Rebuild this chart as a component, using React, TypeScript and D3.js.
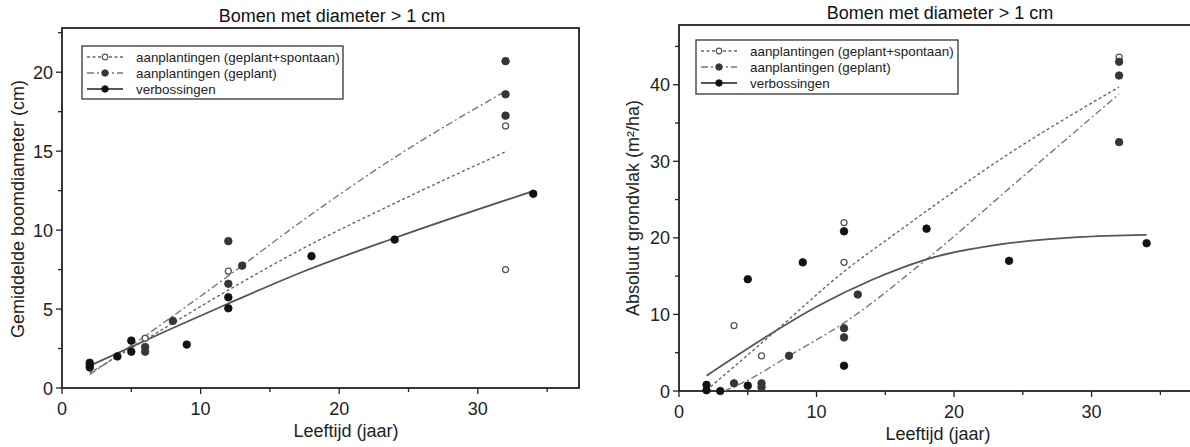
import React from "react";
import * as d3 from "d3";

const W = 1190, H = 447;
const title = "Bomen met diameter > 1 cm";
const xLabel = "Leeftijd (jaar)";
const legendLabels = ["aanplantingen (geplant+spontaan)", "aanplantingen (geplant)", "verbossingen"];
const xTicks = [0, 10, 20, 30];
const xMinor = [5, 15, 25, 35];

// links: gemiddelde boomdiameter (cm)
const diamTicks = [0, 5, 10, 15, 20];
const diamMinor = [2.5, 7.5, 12.5, 17.5, 22.5];
const diamSpont = [[6, 3.15], [12, 7.4], [32, 16.6], [32, 7.5]];
const diamGeplant = [[6, 2.6], [6, 2.3], [8, 4.25], [12, 9.3], [12, 6.6], [13, 7.75], [32, 20.7], [32, 18.6], [32, 17.25]];
const diamVerbos = [[2, 1.3], [2, 1.45], [2, 1.6], [4, 2.0], [5, 3.0], [5, 2.3], [9, 2.75], [12, 5.75], [12, 5.05], [18, 8.35], [24, 9.4], [34, 12.3]];
const diamFitSpont = [[2, 0.95], [6, 3.05], [12, 6.2], [17.2, 8.75], [24, 11.7], [32, 14.96]];
const diamFitGeplant = [[2, 0.85], [6, 3.3], [12, 7.1], [17.2, 10.5], [24, 14.6], [32, 18.8]];
const diamFitVerbos = [[2, 1.41], [8, 3.8], [12, 5.35], [17.2, 7.3], [24, 9.5], [34, 12.47]];

// rechts: absoluut grondvlak (m²/ha)
const areaTicks = [0, 10, 20, 30, 40];
const areaMinor = [5, 15, 25, 35, 45];
const areaSpont = [[4, 8.55], [6, 4.6], [12, 22.0], [12, 16.8], [32, 43.6]];
const areaGeplant = [[4, 1.0], [6, 1.0], [6, 0.5], [8, 4.6], [12, 8.2], [12, 7.0], [13, 12.6], [32, 43.0], [32, 41.2], [32, 32.5]];
const areaVerbos = [[2, 0.8], [2, 0.1], [3, 0.0], [5, 14.6], [5, 0.7], [9, 16.8], [12, 20.85], [12, 3.3], [18, 21.2], [24, 17.0], [34, 19.3]];
const areaFitSpont = [[2, 0.1], [7, 7.8], [12, 15.6], [16, 20.9], [24, 31.0], [32, 39.7]];
const areaFitGeplant = [[3.3, 0], [5, 1.4], [8, 4.6], [12, 8.9], [18, 17.2], [25, 28.0], [32, 38.8]];
const areaFitVerbos = [[2, 2.0], [6, 6.7], [10, 11.0], [14, 14.5], [18, 17.2], [24, 19.3], [29, 20.1], [34, 20.4]];

const FONT = "'Liberation Sans', Arial, sans-serif";

const styles = [
    { dash: "3,2.5", stroke: "#666", width: 1.4, fill: "#fff", ptStroke: "#555", open: true },
    { dash: "7,3,2,3", stroke: "#777", width: 1.4, fill: "#363636", ptStroke: "#363636", open: false },
    { dash: null, stroke: "#555", width: 1.8, fill: "#111", ptStroke: "#111", open: false },
];

function drawPanel(svg: any, cfg: any) {
    const x = d3.scaleLinear().domain([0, 37.3]).range(cfg.xRange);
    const y = d3.scaleLinear().domain(cfg.yDomain).range(cfg.yRange);
    const [x0, x1] = cfg.xRange;
    const [yb, yt] = cfg.yRange;
    const g = svg.append("g");

    // box
    g.append("rect")
        .attr("x", x0).attr("y", yt)
        .attr("width", x1 - x0).attr("height", yb - yt)
        .attr("fill", "none").attr("stroke", "#222").attr("stroke-width", 1.8);

    // x ticks
    g.selectAll(".xt").data(xTicks).enter().append("line")
        .attr("x1", d => x(d)).attr("x2", d => x(d))
        .attr("y1", yb).attr("y2", yb + 6)
        .attr("stroke", "#222").attr("stroke-width", 1.3);
    g.selectAll(".xm").data(xMinor).enter().append("line")
        .attr("x1", d => x(d)).attr("x2", d => x(d))
        .attr("y1", yb).attr("y2", yb + 4)
        .attr("stroke", "#222").attr("stroke-width", 1.3);
    g.selectAll(".xl").data(xTicks).enter().append("text")
        .attr("x", d => x(d)).attr("y", yb + 27)
        .attr("text-anchor", "middle")
        .style("font", `18px ${FONT}`).attr("fill", "#222")
        .text(d => d);

    // y ticks
    g.selectAll(".yt").data(cfg.yTicks).enter().append("line")
        .attr("x1", x0 - 6).attr("x2", x0)
        .attr("y1", d => y(d)).attr("y2", d => y(d))
        .attr("stroke", "#222").attr("stroke-width", 1.3);
    g.selectAll(".ym").data(cfg.yMinor).enter().append("line")
        .attr("x1", x0 - 4).attr("x2", x0)
        .attr("y1", d => y(d)).attr("y2", d => y(d))
        .attr("stroke", "#222").attr("stroke-width", 1.3);
    g.selectAll(".yl").data(cfg.yTicks).enter().append("text")
        .attr("x", x0 - 9).attr("y", d => y(d) + 6.5)
        .attr("text-anchor", "end")
        .style("font", `18px ${FONT}`).attr("fill", "#222")
        .text(d => d);

    // titles
    g.append("text").attr("x", cfg.titleX).attr("y", cfg.titleY)
        .attr("text-anchor", "middle").style("font", `18px ${FONT}`).attr("fill", "#111")
        .text(title);
    g.append("text").attr("x", cfg.xLabelX).attr("y", cfg.xLabelY)
        .attr("text-anchor", "middle").style("font", `18px ${FONT}`).attr("fill", "#222")
        .text(xLabel);
    g.append("text")
        .attr("transform", `translate(${cfg.yLabelX},${cfg.yLabelY})rotate(-90)`)
        .attr("text-anchor", "middle").style("font", `18px ${FONT}`).attr("fill", "#222")
        .text(cfg.yLabel);

    // fit lines
    const line = d3.line().x((d: any) => x(d[0])).y((d: any) => y(d[1])).curve(d3.curveMonotoneX);
    cfg.fits.forEach((f: any, i: number) => {
        g.append("path").datum(f)
            .attr("fill", "none")
            .attr("stroke", styles[i].stroke)
            .attr("stroke-width", styles[i].width)
            .attr("stroke-dasharray", styles[i].dash)
            .attr("d", line);
    });

    // points
    cfg.points.forEach((pts: any, i: number) => {
        const s = styles[i];
        g.selectAll(".p" + i).data(pts).enter().append("circle")
            .attr("cx", (d: any) => x(d[0])).attr("cy", (d: any) => y(d[1]))
            .attr("r", s.open ? 3 : 3.8)
            .attr("fill", s.fill).attr("stroke", s.ptStroke)
            .attr("stroke-width", s.open ? 1.3 : 0.8);
    });

    // legend
    const [lx, ly, lw, lh] = cfg.legend;
    g.append("rect").attr("x", lx).attr("y", ly).attr("width", lw).attr("height", lh)
        .attr("fill", "#fff").attr("stroke", "#333").attr("stroke-width", 1.3);
    legendLabels.forEach((lab, i) => {
        const s = styles[i];
        const cy = ly + 11 + i * 16;
        g.append("line").attr("x1", lx + 5).attr("x2", lx + 41).attr("y1", cy).attr("y2", cy)
            .attr("stroke", s.stroke).attr("stroke-width", s.width).attr("stroke-dasharray", s.dash);
        g.append("circle").attr("cx", lx + 23).attr("cy", cy).attr("r", s.open ? 2.8 : 3.3)
            .attr("fill", s.fill).attr("stroke", s.ptStroke).attr("stroke-width", s.open ? 1.2 : 0.8);
        g.append("text").attr("x", lx + 54).attr("y", cy + 4.5)
            .style("font", `13.4px ${FONT}`).attr("fill", "#222").text(lab);
    });
}

export default class App extends React.Component {
    myReference: any;
    constructor(props: any) {
        super(props);
        this.myReference = React.createRef();
    }

    componentDidMount() {
        const svg = d3.select(this.myReference.current).append("svg")
            .attr("width", W).attr("height", H)
            .style("display", "block").style("background", "#fff");

        drawPanel(svg, {
            xRange: [62, 579], yDomain: [0, 22.8], yRange: [388, 28],
            yTicks: diamTicks, yMinor: diamMinor,
            titleX: 332, titleY: 22, xLabelX: 346, xLabelY: 437,
            yLabel: "Gemiddelde boomdiameter (cm)", yLabelX: 24, yLabelY: 209,
            fits: [diamFitSpont, diamFitGeplant, diamFitVerbos],
            points: [diamSpont, diamGeplant, diamVerbos],
            legend: [82, 46, 261, 53],
        });
        drawPanel(svg, {
            xRange: [679, 1192], yDomain: [0, 47.8], yRange: [391, 25],
            yTicks: areaTicks, yMinor: areaMinor,
            titleX: 940, titleY: 19, xLabelX: 938, xLabelY: 440,
            yLabel: "Absoluut grondvlak (m²/ha)", yLabelX: 639, yLabelY: 208,
            fits: [areaFitSpont, areaFitGeplant, areaFitVerbos],
            points: [areaSpont, areaGeplant, areaVerbos],
            legend: [696, 40, 262, 54],
        });
    }

    render() {
        return (
            <div ref={this.myReference} style={{ position: "absolute", left: 0, top: 0 }}>
            </div>
        );
    }
}
